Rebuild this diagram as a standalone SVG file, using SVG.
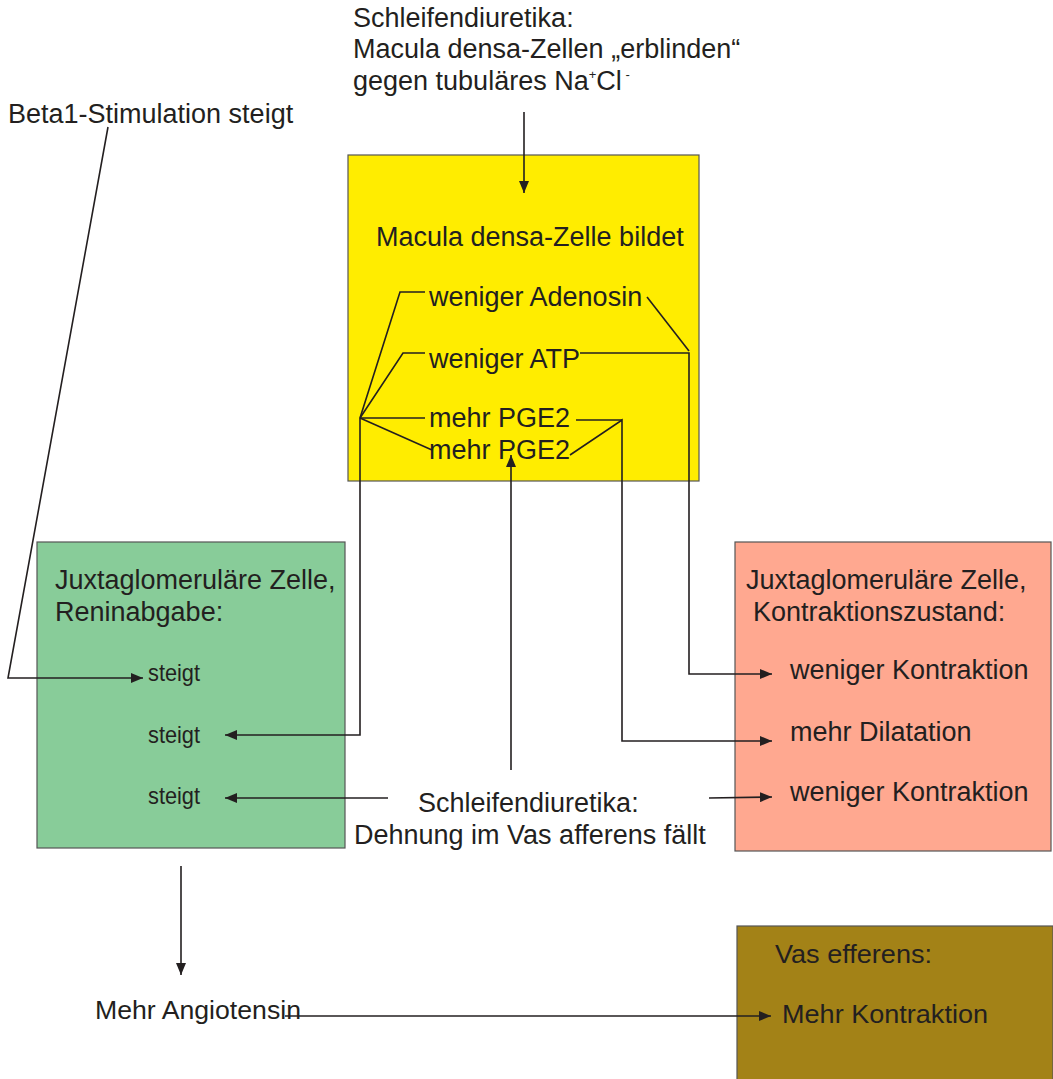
<svg xmlns="http://www.w3.org/2000/svg" width="1053" height="1079" viewBox="0 0 1053 1079">
<style>
text{font-family:"Liberation Sans",Arial,sans-serif;fill:#231F20;font-size:27px}
.n{font-size:24px}
.m{font-size:26px}
.c{stroke:#231F20;stroke-width:1.6;fill:none}
.box{stroke:#555;stroke-width:1.2}
</style>
<defs>
<marker id="ah" viewBox="0 0 12 10" refX="12" refY="5" markerWidth="12" markerHeight="10" markerUnits="userSpaceOnUse" orient="auto">
<path d="M0,0 L12,5 L0,10 z" fill="#231F20"/>
</marker>
</defs>
<rect width="1053" height="1079" fill="#fff"/>
<g id="top-label">
<text x="353" y="27">Schleifendiuretika:</text>
<text x="353" y="58">Macula densa-Zellen „erblinden“</text>
<text x="353" y="90">gegen tubuläres Na<tspan font-size="13" dy="-11">+</tspan><tspan dy="11">Cl</tspan><tspan font-size="13" dy="-11"> -</tspan></text>
</g>
<g id="beta-label"><text x="8" y="123">Beta1-Stimulation steigt</text></g>
<g id="macula">
<rect class="box" x="348" y="155" width="351" height="326" fill="#FFED00"/>
<text x="376" y="246">Macula densa-Zelle bildet</text>
<text x="429" y="306">weniger Adenosin</text>
<text x="429" y="368">weniger ATP</text>
<text x="429" y="427">mehr PGE2</text>
<text x="429" y="459">mehr PGE2</text>
</g>
<g id="renin">
<rect class="box" x="37" y="542" width="308" height="306" fill="#88CC99"/>
<text x="55" y="589">Juxtaglomeruläre Zelle,</text>
<text x="55" y="621">Reninabgabe:</text>
<text class="n" x="148" y="681" textLength="52" lengthAdjust="spacingAndGlyphs">steigt</text>
<text class="n" x="148" y="743" textLength="52" lengthAdjust="spacingAndGlyphs">steigt</text>
<text class="n" x="148" y="804" textLength="52" lengthAdjust="spacingAndGlyphs">steigt</text>
</g>
<g id="kontraktion">
<rect class="box" x="735" y="542" width="316" height="309" fill="#FFA890"/>
<text x="746" y="589">Juxtaglomeruläre Zelle,</text>
<text x="753" y="621">Kontraktionszustand:</text>
<text x="790" y="679">weniger Kontraktion</text>
<text x="790" y="741">mehr Dilatation</text>
<text x="790" y="801">weniger Kontraktion</text>
</g>
<g id="dehnung">
<text x="418" y="812">Schleifendiuretika:</text>
<text x="354" y="844">Dehnung im Vas afferens fällt</text>
</g>
<g id="angiotensin"><text class="m" x="95" y="1019" textLength="206" lengthAdjust="spacingAndGlyphs">Mehr Angiotensin</text></g>
<g id="efferens">
<rect class="box" x="737" y="926" width="316" height="160" fill="#A38217"/>
<text class="m" x="775" y="963" textLength="157" lengthAdjust="spacingAndGlyphs">Vas efferens:</text>
<text class="m" x="782" y="1023" textLength="206" lengthAdjust="spacingAndGlyphs">Mehr Kontraktion</text>
</g>
<g id="connectors">
<path class="c" d="M524,112 V193" marker-end="url(#ah)"/>
<path class="c" d="M108,127 L8,678 H143" marker-end="url(#ah)"/>
<path class="c" d="M425,292 H400 L360,418"/>
<path class="c" d="M425,353 H403 L360,418"/>
<path class="c" d="M425,418 H360"/>
<path class="c" d="M432,450 L360,418"/>
<path class="c" d="M360,418 V735 H225" marker-end="url(#ah)"/>
<path class="c" d="M647,297 L689,351"/>
<path class="c" d="M580,353 H689 V674 H772" marker-end="url(#ah)"/>
<path class="c" d="M576,420 H622"/>
<path class="c" d="M570,455 L622,420 V741 H772" marker-end="url(#ah)"/>
<path class="c" d="M511,770 V455" marker-end="url(#ah)"/>
<path class="c" d="M388,798 H225" marker-end="url(#ah)"/>
<path class="c" d="M709,798 L772,797" marker-end="url(#ah)"/>
<path class="c" d="M181,866 V975" marker-end="url(#ah)"/>
<path class="c" d="M285,1016 H771" marker-end="url(#ah)"/>
</g>
</svg>
